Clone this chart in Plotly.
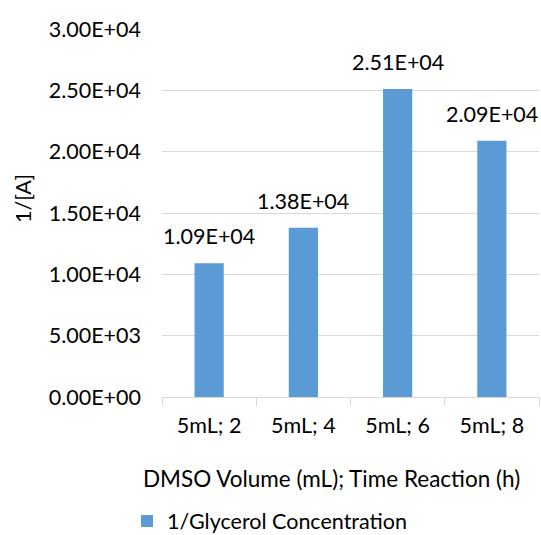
import plotly.graph_objects as go

categories = ["5mL; 2", "5mL; 4", "5mL; 6", "5mL; 8"]
values = [10900, 13800, 25100, 20900]
labels = ["1.09E+04", "1.38E+04", "2.51E+04", "2.09E+04"]
y_ticks = [0, 5000, 10000, 15000, 20000, 25000, 30000]
y_tick_text = ["0.00E+00", "5.00E+03", "1.00E+04", "1.50E+04", "2.00E+04", "2.50E+04", "3.00E+04"]

FONT = "Lato"
FS = 21.5
W, H = 541, 535
L, R, T, B = 162, 2, 29, 138

fig = go.Figure()
fig.add_trace(go.Bar(
    x=categories, y=values, name="1/Glycerol Concentration",
    marker=dict(color="#5B9BD5", line=dict(width=0)),
    width=0.31,
))

for c, v, t in zip(categories, values, labels):
    fig.add_annotation(x=c, y=v, text=t, showarrow=False, xanchor="center",
                       yanchor="bottom", yshift=12,
                       font=dict(family=FONT, size=FS, color="#000000"))

fig.update_layout(
    width=W, height=H,
    margin=dict(l=L, r=R, t=T, b=B, autoexpand=False),
    paper_bgcolor="white", plot_bgcolor="white",
    font=dict(family=FONT, size=FS, color="#000000"),
    showlegend=True,
    legend=dict(orientation="h", x=(127 - L) / (W - L - R), y=-(521 - (H - B)) / (H - T - B),
                xanchor="left", yanchor="middle",
                font=dict(family=FONT, size=FS, color="#000000"),
                itemwidth=30, bgcolor="rgba(0,0,0,0)"),
    xaxis=dict(
        type="category", tickson="boundaries", ticks="outside", ticklen=8,
        tickcolor="#d9d9d9", showline=True, linecolor="#d9d9d9", linewidth=1,
        showgrid=False, tickfont=dict(family=FONT, size=FS), range=[-0.5, 3.5],
        ticklabelstandoff=9, automargin=False,
    ),
    yaxis=dict(
        range=[0, 30000], tickvals=y_ticks, ticktext=y_tick_text,
        showgrid=True, gridcolor="#d9d9d9", gridwidth=1, zeroline=False,
        showline=False, ticks="", ticklen=0, tickfont=dict(family=FONT, size=FS),
        ticklabelstandoff=20, automargin=False,
    ),
    bargap=0.69,
)

fig.add_annotation(text="DMSO Volume (mL); Time Reaction (h)", xref="paper", yref="paper",
                   x=(331 - L) / (W - L - R), y=-(478 - (H - B)) / (H - T - B),
                   xanchor="center", yanchor="middle", showarrow=False,
                   font=dict(family=FONT, size=22.5, color="#000000"))
fig.add_annotation(text="1/[A]", xref="paper", yref="paper",
                   x=(23 - L) / (W - L - R), y=((H - B) - 199) / (H - T - B),
                   xanchor="center", yanchor="middle", showarrow=False, textangle=-90,
                   font=dict(family=FONT, size=FS, color="#000000"))

fig.write_html("out.html")
